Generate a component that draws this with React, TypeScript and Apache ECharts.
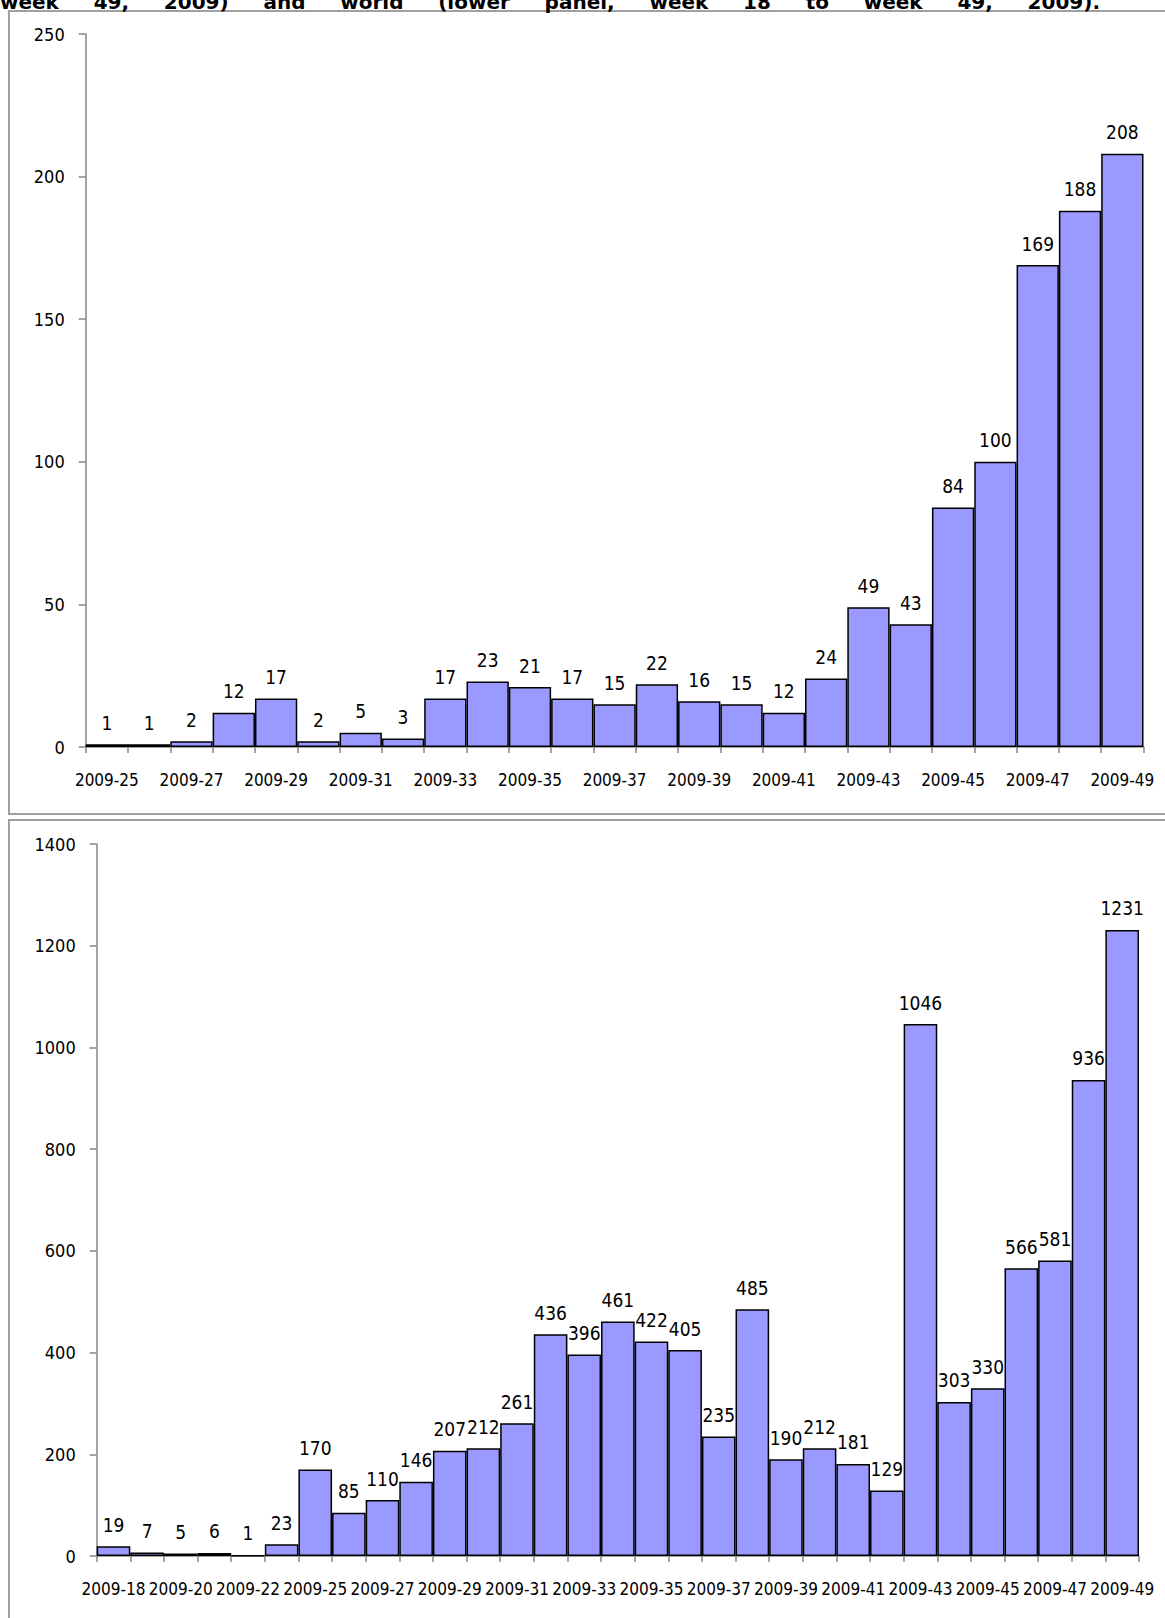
import React, { useEffect, useRef } from 'react';
import * as echarts from 'echarts';

const titleWords = ['week', '49,', '2009)', 'and', 'world', '(lower', 'panel,', 'week', '18', 'to', 'week', '49,', '2009).'];

const topWeeks = [
  '2009-25', '2009-26', '2009-27', '2009-28', '2009-29', '2009-30', '2009-31', '2009-32', '2009-33',
  '2009-34', '2009-35', '2009-36', '2009-37', '2009-38', '2009-39', '2009-40', '2009-41', '2009-42',
  '2009-43', '2009-44', '2009-45', '2009-46', '2009-47', '2009-48', '2009-49',
];
const topCases = [1, 1, 2, 12, 17, 2, 5, 3, 17, 23, 21, 17, 15, 22, 16, 15, 12, 24, 49, 43, 84, 100, 169, 188, 208];
const topAxis = { min: 0, max: 250, interval: 50 };

const bottomWeeks = [
  '2009-18', '2009-19', '2009-20', '2009-21', '2009-22', '2009-24', '2009-25', '2009-26', '2009-27',
  '2009-28', '2009-29', '2009-30', '2009-31', '2009-32', '2009-33', '2009-34', '2009-35', '2009-36',
  '2009-37', '2009-38', '2009-39', '2009-40', '2009-41', '2009-42', '2009-43', '2009-44', '2009-45',
  '2009-46', '2009-47', '2009-48', '2009-49',
];
const bottomCases = [
  19, 7, 5, 6, 1, 23, 170, 85, 110, 146, 207, 212, 261, 436, 396, 461, 422, 405, 235, 485, 190, 212,
  181, 129, 1046, 303, 330, 566, 581, 936, 1231,
];
const bottomAxis = { min: 0, max: 1400, interval: 200 };

const FONT = "'DejaVu Sans Condensed', 'DejaVu Sans', sans-serif";
const AXIS_GRAY = '#868686';

export default function App() {
  const ref = useRef<HTMLDivElement>(null);

  useEffect(() => {
    if (!ref.current) return;
    const chart = echarts.init(ref.current, null, { renderer: 'svg' });

    // title words (cut off at the top edge, as in the reference), justified across 0..1100
    const titleFont = 'bold 20px "DejaVu Sans"';
    const cv = document.createElement('canvas');
    const ctx = cv.getContext('2d')!;
    ctx.font = titleFont;
    const widths = titleWords.map((w) => ctx.measureText(w).width);
    const total = widths.reduce((a, b) => a + b, 0);
    const gap = (1100 - total) / (titleWords.length - 1);
    let cx = 0;
    const titleEls = titleWords.map((w, i) => {
      const el = {
        type: 'text',
        x: cx,
        y: 12,
        silent: true,
        style: {
          text: w,
          font: titleFont,
          fill: '#000',
          verticalAlign: 'bottom',
        },
      };
      cx += widths[i] + gap;
      return el;
    });

    const xAxisCommon = (data: string[], gridIndex: number) => ({
      type: 'category',
      gridIndex,
      data,
      boundaryGap: true,
      axisLine: { show: true, lineStyle: { color: AXIS_GRAY, width: 1.5 } },
      axisTick: { show: true, interval: 0, length: 6, alignWithLabel: false, lineStyle: { color: AXIS_GRAY, width: 1.5 } },
      axisLabel: { interval: 1, margin: 24, fontSize: 17, color: '#000', fontFamily: FONT },
      splitLine: { show: false },
    });

    const yAxisCommon = (ax: { min: number; max: number; interval: number }, gridIndex: number) => ({
      type: 'value',
      gridIndex,
      min: ax.min,
      max: ax.max,
      interval: ax.interval,
      axisLine: { show: true, lineStyle: { color: AXIS_GRAY, width: 1.5 } },
      axisTick: { show: true, length: 7, lineStyle: { color: AXIS_GRAY, width: 1.5 } },
      axisLabel: { margin: 21, fontSize: 18, color: '#000', fontFamily: FONT, formatter: (v: number) => String(v) },
      splitLine: { show: false },
    });

    const seriesCommon = (data: number[], idx: number) => ({
      type: 'bar',
      xAxisIndex: idx,
      yAxisIndex: idx,
      data,
      barCategoryGap: '0%',
      itemStyle: { color: '#9999ff', borderColor: '#000', borderWidth: 1.5 },
      label: { show: true, position: 'top', distance: 12, fontSize: 19, color: '#000', fontFamily: FONT },
      emphasis: { disabled: true },
    });

    chart.setOption({
      animation: false,
      backgroundColor: '#fff',
      grid: [
        { left: 85.7, top: 34, width: 1057.8, height: 713 },
        { left: 96.7, top: 844, width: 1042.3, height: 712 },
      ],
      xAxis: [xAxisCommon(topWeeks, 0), xAxisCommon(bottomWeeks, 1)],
      yAxis: [yAxisCommon(topAxis, 0), yAxisCommon(bottomAxis, 1)],
      series: [seriesCommon(topCases, 0), seriesCommon(bottomCases, 1)],
      graphic: [
        {
          type: 'rect',
          silent: true,
          z: -10,
          shape: { x: 9, y: 11, width: 1170, height: 803 },
          style: { fill: 'none', stroke: '#a0a0a0', lineWidth: 2 },
        },
        {
          type: 'rect',
          silent: true,
          z: -10,
          shape: { x: 9, y: 820, width: 1170, height: 820 },
          style: { fill: 'none', stroke: '#a0a0a0', lineWidth: 2 },
        },
        ...titleEls,
      ],
    });

    return () => chart.dispose();
  }, []);

  return <div ref={ref} style={{ position: 'absolute', left: 0, top: 0, width: 1165, height: 1618 }} />;
}
